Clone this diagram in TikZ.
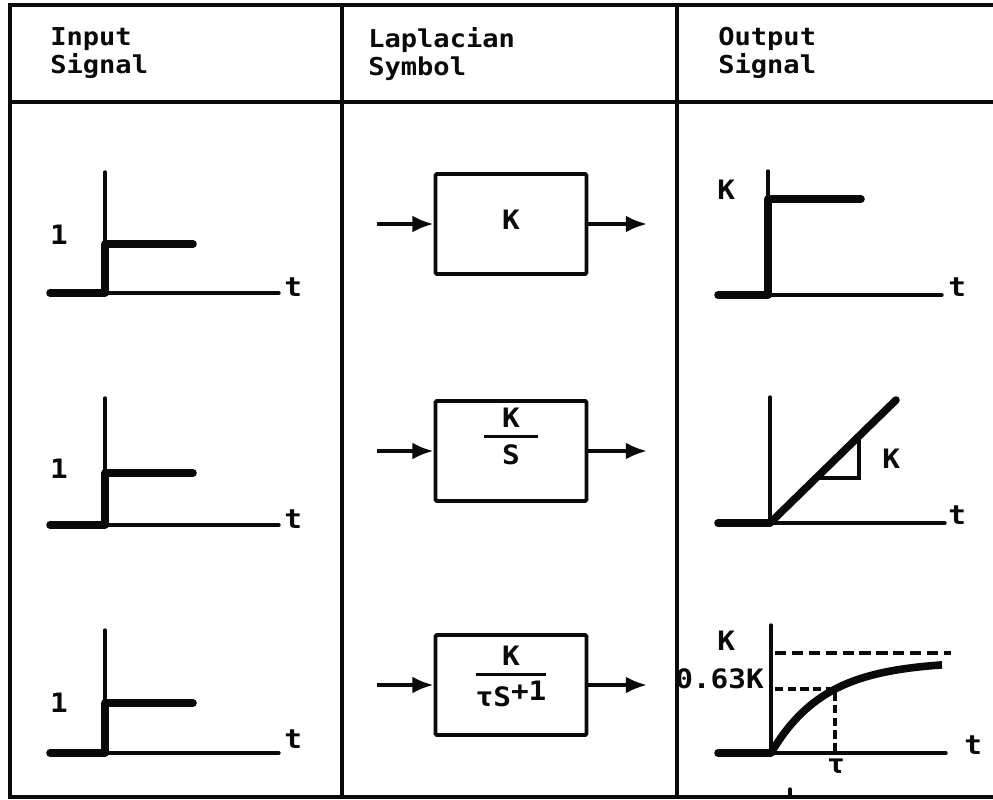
\documentclass[tikz,border=0pt]{standalone}
\usepackage{fontspec}
\setmainfont{DejaVu Sans Mono}[FakeStretch=1.1]
\usetikzlibrary{arrows.meta,calc,positioning}
\definecolor{PlateInk}{HTML}{0A0A0A}
\newcommand{\gainover}[3][19pt]{{\setlength{\arrayrulewidth}{2pt}%
  \renewcommand{\arraystretch}{0.8}%
  \begin{tabular}{@{}c@{}}\makebox[1.35cm]{#2}\\\hline\rule{0pt}{#1}#3\end{tabular}}}
\tikzset{
  tableline/.style={PlateInk,line width=3pt},
  axisline/.style={PlateInk,line width=2.4pt,line cap=round},
  trace/.style={PlateInk,line width=5.4pt,line cap=round,line join=round},
  blockbox/.style={draw=PlateInk,line width=2.8pt,minimum width=3.775cm,
    minimum height=2.5cm,inner sep=0pt,rounded corners=1pt},
  flow/.style={-{Latex[length=15pt,width=12pt]},PlateInk,line width=2.6pt},
  headtext/.style={anchor=north west,inner sep=0pt,align=left,text=PlateInk,
    font=\bfseries\fontsize{17.5}{20}\selectfont},
  plotlabel/.style={inner sep=0pt,text=PlateInk,
    font=\bfseries\fontsize{19}{22}\selectfont},
  refdash/.style={PlateInk,line width=2.6pt,dash pattern=on 8pt off 4pt},
}
\begin{document}
\begin{tikzpicture}[x=0.025cm,y=-0.025cm]
  \useasboundingbox (0,0) rectangle (993,800);

  % table frame
  \draw[tableline] (993,5) -- (10,5) -- (10,797) -- (993,797);
  \draw[tableline] (10,102) -- (993,102);
  \draw[tableline] (342,5) -- (342,797);
  \draw[tableline] (677,5) -- (677,797);

  \node[headtext] (headin) at (50,27) {Input\\Signal};
  \node[headtext] (headsym) at (368,27) {Laplacian\\Symbol};
  \node[headtext] (headout) at (718,27) {Output\\Signal};

  % input column
  \draw[axisline] (105,172) -- (105,293) -- (279,293);
  \draw[trace] (50,293) -- (105,293) -- (105,244) -- (193,244);
  \node[plotlabel,anchor=base] (inone1) at (59,245) {1};
  \node[plotlabel,anchor=base west] (intime1) at (284,297) {t};

  \draw[axisline] (105,398) -- (105,525) -- (279,525);
  \draw[trace] (50,525) -- (105,525) -- (105,473) -- (193,473);
  \node[plotlabel,anchor=base] (inone2) at (59,478) {1};
  \node[plotlabel,anchor=base west] (intime2) at (284,528) {t};

  \draw[axisline] (105,630) -- (105,753) -- (279,753);
  \draw[trace] (50,753) -- (105,753) -- (105,703) -- (193,703);
  \node[plotlabel,anchor=base] (inone3) at (59,712) {1};
  \node[plotlabel,anchor=base west] (intime3) at (284,748) {t};

  % symbol column
  \node[blockbox] (kbox) at (511,224) {};
  \node[plotlabel] (ktext) at (511,220) {K};
  \coordinate (kin) at (377,224);
  \coordinate (kout) at (647,224);
  \draw[flow] (kin) -- (kbox);
  \draw[flow] (kbox) -- (kout);

  \node[blockbox] (intbox) at (511,451) {};
  \node[plotlabel] (inttext) at (511,440) {\gainover{K}{S}};
  \coordinate (intin) at (377,451);
  \coordinate (intout) at (647,451);
  \draw[flow] (intin) -- (intbox);
  \draw[flow] (intbox) -- (intout);

  \node[blockbox] (lagbox) at (511,685) {};
  \node[plotlabel] (lagtext) at (511,680)
    {\gainover[21.5pt]{K}{τS\raisebox{0.22em}{+1}}};
  \coordinate (lagin) at (377,685);
  \coordinate (lagout) at (647,685);
  \draw[flow] (lagin) -- (lagbox);
  \draw[flow] (lagbox) -- (lagout);

  % output column
  \draw[axisline] (768,171) -- (768,295) -- (942,295);
  \draw[trace] (718,295) -- (768,295) -- (768,199) -- (861,199);
  \node[plotlabel,anchor=base west] (outgain1) at (717,200) {K};
  \node[plotlabel,anchor=base west] (outtime1) at (948,297) {t};

  \draw[axisline] (770,397) -- (770,523) -- (945,523);
  \draw[trace] (718,523) -- (770,523);
  \coordinate (rampfoot) at (770,523);
  \coordinate (ramptop) at (896,400);
  \draw[trace] (rampfoot) -- (ramptop);
  \draw[axisline] ($(rampfoot)!0.365!(ramptop)$)
    -| ($(rampfoot)!0.706!(ramptop)$);
  \node[plotlabel,anchor=base west] (outslope2) at (882,468) {K};
  \node[plotlabel,anchor=base west] (outtime2) at (948,524) {t};

  \draw[axisline] (771,625) -- (771,753) -- (946,753);
  \draw[trace] (718,753) -- (771,753);
  \draw[trace,line cap=butt]
    plot[domain=0:171,samples=60] ({771+\x},{753-92*(1-exp(-\x/54))});
  \draw[refdash] (775,653) -- (951,653);
  \draw[refdash,dash pattern=on 6pt off 3pt]
    (775,689) -- (835,689) -- (835,753);
  \node[plotlabel,anchor=base west] (outgain3) at (717,650) {K};
  \node[plotlabel,anchor=base east] (outmark3) at (764,688) {0.63K};
  \node[plotlabel,anchor=base] (outtau3) at (836,773) {τ};
  \node[plotlabel,anchor=base west] (outtime3) at (964,754) {t};

  \draw[axisline] (790,789) -- (790,797);
\end{tikzpicture}
\end{document}
